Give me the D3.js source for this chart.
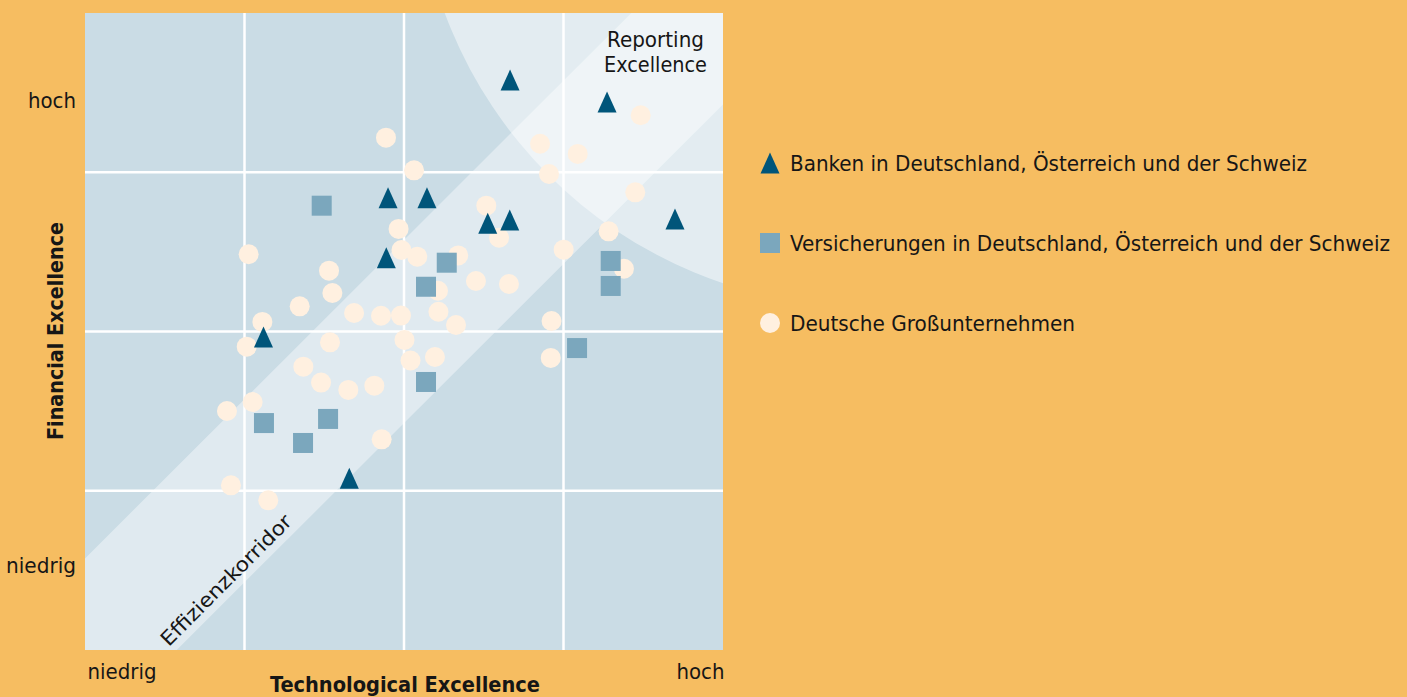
<!DOCTYPE html>
<html>
<head>
<meta charset="utf-8">
<script src="https://cdn.jsdelivr.net/npm/d3@7"></script>
<style>
  html, body { margin: 0; padding: 0; background: #f6bd61; }
  svg { display: block; }
  text { font-family: "DejaVu Sans Condensed", "Liberation Sans Narrow", sans-serif; fill: #161616; }
</style>
</head>
<body>
<div id="chart"></div>
<script>
const banken = [
  [2.665, 3.579], [3.273, 3.441], [3.699, 2.706], [1.900, 2.840], [2.144, 2.840],
  [2.525, 2.679], [2.663, 2.700], [1.889, 2.463], [1.119, 1.965], [1.657, 1.078]
];
const versicherungen = [
  [1.484, 2.790], [2.268, 2.432], [2.138, 2.281], [3.296, 2.443], [3.296, 2.286],
  [3.085, 1.896], [2.138, 1.683], [1.122, 1.425], [1.524, 1.451], [1.367, 1.300]
];
const grossunternehmen = [
  [1.887, 3.217], [2.063, 3.012], [3.484, 3.358], [2.853, 3.179], [3.089, 3.115],
  [2.909, 2.989], [3.450, 2.874], [2.516, 2.790], [2.596, 2.589], [3.283, 2.629],
  [3.001, 2.514], [3.379, 2.394], [2.658, 2.298], [2.451, 2.317], [2.340, 2.478],
  [2.083, 2.470], [1.966, 2.644], [1.984, 2.512], [2.213, 2.256], [2.216, 2.124],
  [2.326, 2.041], [1.981, 2.100], [2.925, 2.066], [1.026, 2.485], [1.530, 2.382],
  [1.551, 2.242], [1.346, 2.158], [1.687, 2.116], [1.856, 2.099], [1.112, 2.060],
  [1.014, 1.905], [1.536, 1.932], [2.003, 1.947], [2.041, 1.818], [2.194, 1.840],
  [1.369, 1.779], [1.480, 1.679], [1.651, 1.633], [1.814, 1.660], [1.051, 1.557],
  [0.890, 1.501], [1.860, 1.323], [0.915, 1.034], [1.149, 0.940], [2.920, 1.834]
];
const gridValues = [1, 2, 3];
const xTickValues = [0, 4];
const yTickValues = [0.53, 3.45];
const tickLabels = { low: 'niedrig', high: 'hoch' };
const corridorHalf = 0.575;               // Effizienzkorridor: |y - x| <= 0.575
const reportingCircle = { cx: 4.9, cy: 4.98, r: 2.82 };
const legendItems = [
  { key: 'bank', label: 'Banken in Deutschland, Österreich und der Schweiz' },
  { key: 'vers', label: 'Versicherungen in Deutschland, Österreich und der Schweiz' },
  { key: 'gross', label: 'Deutsche Großunternehmen' }
];

const W = 1407, H = 697;
const COLOR = { bg: '#f6bd61', plot: '#cadce5', bank: '#00557a', vers: '#7ba7bd', gross: '#fff0e0' };

const svg = d3.select('#chart').append('svg').attr('width', W).attr('height', H);
svg.append('rect').attr('width', W).attr('height', H).attr('fill', COLOR.bg);

const x = d3.scaleLinear().domain([0, 4]).range([85, 723]);
const y = d3.scaleLinear().domain([0, 4]).range([650, 13]);

svg.append('clipPath').attr('id', 'plotclip')
  .append('rect').attr('x', x(0)).attr('y', y(4))
  .attr('width', x(4) - x(0)).attr('height', y(0) - y(4));

const plot = svg.append('g').attr('clip-path', 'url(#plotclip)');
plot.append('rect').attr('x', x(0)).attr('y', y(4))
  .attr('width', x(4) - x(0)).attr('height', y(0) - y(4)).attr('fill', COLOR.plot);

// Effizienzkorridor
const corridor = [[0, 0], [0, corridorHalf], [4 - corridorHalf, 4], [4, 4], [4, 4 - corridorHalf], [corridorHalf, 0]];
plot.append('path')
  .attr('d', d3.line().x(d => x(d[0])).y(d => y(d[1]))(corridor) + 'Z')
  .attr('fill', '#fff').attr('fill-opacity', 0.415);

// Reporting Excellence
plot.append('circle')
  .attr('cx', x(reportingCircle.cx)).attr('cy', y(reportingCircle.cy))
  .attr('r', x(reportingCircle.cx + reportingCircle.r) - x(reportingCircle.cx))
  .attr('fill', '#fff').attr('fill-opacity', 0.47);

// Gitter
plot.selectAll('.vgrid').data(gridValues).join('line')
  .attr('x1', d => x(d)).attr('x2', d => x(d)).attr('y1', y(0)).attr('y2', y(4))
  .attr('stroke', '#fff').attr('stroke-width', 2.5);
plot.selectAll('.hgrid').data(gridValues).join('line')
  .attr('y1', d => y(d)).attr('y2', d => y(d)).attr('x1', x(0)).attr('x2', x(4))
  .attr('stroke', '#fff').attr('stroke-width', 2.5);

// Beschriftungen im Plot
plot.append('text')
  .attr('transform', `translate(226,580) rotate(-45)`)
  .attr('text-anchor', 'middle').attr('dy', '0.35em')
  .attr('font-size', 20).attr('textLength', 176).attr('lengthAdjust', 'spacingAndGlyphs')
  .text('Effizienzkorridor');
const rep = plot.append('text').attr('text-anchor', 'middle').attr('font-size', 21);
rep.append('tspan').attr('x', 655.5).attr('y', 47).attr('textLength', 97).attr('lengthAdjust', 'spacingAndGlyphs').text('Reporting');
rep.append('tspan').attr('x', 655.5).attr('y', 72).attr('textLength', 103).attr('lengthAdjust', 'spacingAndGlyphs').text('Excellence');

// Symbole
const TRI_W = 19, TRI_H = 21, SQ = 20, CR = 10;
const triPath = (cx, cy) => `M${cx},${cy - TRI_H / 2}L${cx + TRI_W / 2},${cy + TRI_H / 2}L${cx - TRI_W / 2},${cy + TRI_H / 2}Z`;

const marks = svg.append('g');
marks.selectAll('.gross').data(grossunternehmen).join('circle')
  .attr('cx', d => x(d[0])).attr('cy', d => y(d[1])).attr('r', CR).attr('fill', COLOR.gross);
marks.selectAll('.vers').data(versicherungen).join('rect')
  .attr('x', d => x(d[0]) - SQ / 2).attr('y', d => y(d[1]) - SQ / 2)
  .attr('width', SQ).attr('height', SQ).attr('fill', COLOR.vers);
marks.selectAll('.bank').data(banken).join('path')
  .attr('d', d => triPath(x(d[0]), y(d[1]))).attr('fill', COLOR.bank);

// Achsen
const xAxis = svg.append('g').attr('transform', `translate(0,${y(0)})`)
  .call(d3.axisBottom(x).tickValues(xTickValues).tickSize(0).tickPadding(0)
    .tickFormat(d => d === 0 ? tickLabels.low : tickLabels.high));
xAxis.select('.domain').remove();
xAxis.selectAll('text')
  .attr('y', 29).attr('dy', 0)
  .attr('font-size', 21).attr('font-family', null).attr('fill', '#161616')
  .attr('text-anchor', d => d === 0 ? 'start' : 'end')
  .attr('dx', d => d === 0 ? 2 : 1)
  .attr('textLength', d => d === 0 ? 69 : 48).attr('lengthAdjust', 'spacingAndGlyphs');

const yAxis = svg.append('g').attr('transform', `translate(${x(0)},0)`)
  .call(d3.axisLeft(y).tickValues(yTickValues).tickSize(0).tickPadding(9)
    .tickFormat(d => d < 2 ? tickLabels.low : tickLabels.high));
yAxis.select('.domain').remove();
yAxis.selectAll('text')
  .attr('font-size', 21).attr('font-family', null).attr('fill', '#161616')
  .attr('textLength', d => d < 2 ? 70 : 48).attr('lengthAdjust', 'spacingAndGlyphs');

svg.append('text')
  .attr('x', 405).attr('y', 692).attr('text-anchor', 'middle')
  .attr('font-size', 21).attr('font-weight', 'bold')
  .attr('textLength', 270).attr('lengthAdjust', 'spacingAndGlyphs')
  .text('Technological Excellence');
svg.append('text')
  .attr('transform', 'translate(63,331) rotate(-90)').attr('text-anchor', 'middle')
  .attr('font-size', 21).attr('font-weight', 'bold')
  .attr('textLength', 218).attr('lengthAdjust', 'spacingAndGlyphs')
  .text('Financial Excellence');

// Legende
const legendLen = [517, 600, 285];
const legend = svg.append('g').attr('transform', 'translate(770,163)');
const li = legend.selectAll('g').data(legendItems).join('g')
  .attr('transform', (d, i) => `translate(0,${i * 80})`);
li.each(function (d) {
  const g = d3.select(this);
  if (d.key === 'bank') g.append('path').attr('d', triPath(0, 0)).attr('fill', COLOR.bank);
  if (d.key === 'vers') g.append('rect').attr('x', -SQ / 2).attr('y', -SQ / 2).attr('width', SQ).attr('height', SQ).attr('fill', COLOR.vers);
  if (d.key === 'gross') g.append('circle').attr('r', CR).attr('fill', COLOR.gross);
});
li.append('text')
  .attr('x', 20).attr('y', 8).attr('font-size', 21)
  .attr('textLength', (d, i) => legendLen[i]).attr('lengthAdjust', 'spacingAndGlyphs')
  .text(d => d.label);
</script>
</body>
</html>
